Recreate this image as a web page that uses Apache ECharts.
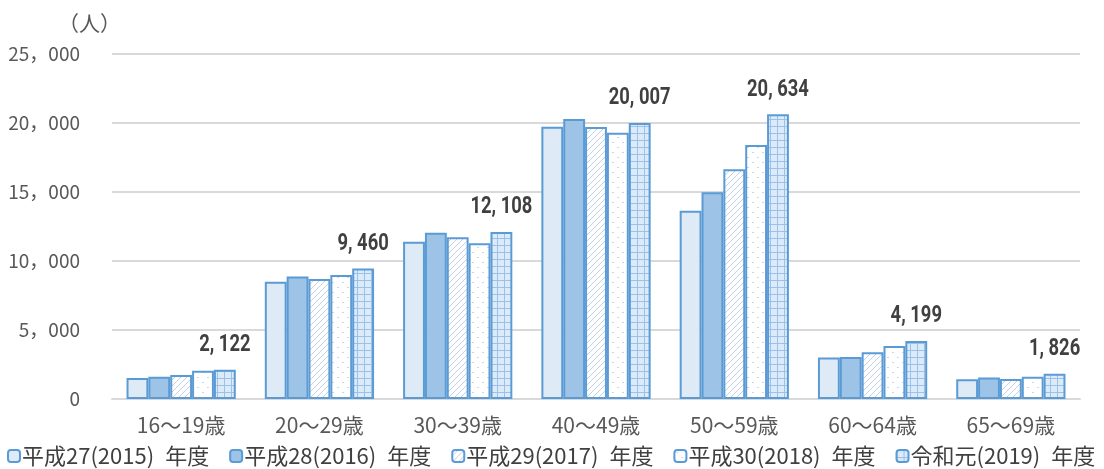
<!DOCTYPE html>
<html><head><meta charset="utf-8">
<script src="https://cdn.jsdelivr.net/npm/echarts@6/dist/echarts.min.js"></script>
<style>html,body{margin:0;padding:0;background:#fff}#c{width:1104px;height:469px}</style>
</head><body><div id="c"></div>
<script>
const categories = ['16～19歳','20～29歳','30～39歳','40～49歳','50～59歳','60～64歳','65～69歳'];
const seriesNames = ['平成27(2015)\u2002年度','平成28(2016)\u2002年度','平成29(2017)\u2002年度','平成30(2018)\u2002年度','令和元(2019)\u2002年度'];
const v2015 = [1520, 8490, 11400, 19730, 13650, 3000, 1430];
const v2016 = [1620, 8880, 12050, 20290, 14980, 3040, 1550];
const v2017 = [1740, 8700, 11720, 19710, 16650, 3380, 1450];
const v2018 = [2050, 8990, 11280, 19300, 18400, 3840, 1620];
const v2019 = [2122, 9460, 12108, 20007, 20634, 4199, 1826];
const yTicks = [0, 5000, 10000, 15000, 20000, 25000];

function fmtAxis(n){ return String(n).replace(/\B(?=(\d{3})+(?!\d))/g, '，'); }
function fmtLabel(n){ return String(n).replace(/\B(?=(\d{3})+(?!\d))/g, ', '); }

function makePattern(draw, w, h){
  const c = document.createElement('canvas'); c.width = w; c.height = h;
  const ctx = c.getContext('2d'); draw(ctx, w, h);
  return {image: c, repeat: 'repeat'};
}
const pDiag = makePattern((ctx,w,h)=>{
  ctx.fillStyle='#ffffff'; ctx.fillRect(0,0,w,h);
  ctx.strokeStyle='#c2d2e4'; ctx.lineWidth=1;
  ctx.beginPath(); ctx.moveTo(-1,h+1); ctx.lineTo(w+1,-1); ctx.stroke();
  ctx.beginPath(); ctx.moveTo(-1,1); ctx.lineTo(1,-1); ctx.stroke();
  ctx.beginPath(); ctx.moveTo(w-1,h+1); ctx.lineTo(w+1,h-1); ctx.stroke();
}, 6, 6);
const pDots = makePattern((ctx,w,h)=>{
  ctx.fillStyle='#ffffff'; ctx.fillRect(0,0,w,h);
  ctx.fillStyle='#c8d6e6';
  ctx.fillRect(2,2,2,1);
  ctx.fillRect(7,7,2,1);
}, 10, 10);
const pGrid = makePattern((ctx,w,h)=>{
  ctx.fillStyle='#dcebfa'; ctx.fillRect(0,0,w,h);
  ctx.fillStyle='#9cc0e6';
  ctx.fillRect(0,0,w,1);
  ctx.fillRect(0,0,1,h);
}, 7, 7);

const fills = ['#deebf7', '#9dc3e6', pDiag, pDots, pGrid];
const values = [v2015, v2016, v2017, v2018, v2019];
const border = '#5b9bd5';
const catGap = 0.21;

const series = values.map((vals, i) => ({
  name: seriesNames[i],
  type: 'bar',
  data: vals,
  barGap: '0%',
  barCategoryGap: (catGap * 100) + '%',
  itemStyle: {color: fills[i], borderColor: border, borderWidth: 2},
  emphasis: {disabled: true}
}));

// value labels for the latest year, drawn as condensed text above the last bar of each group
series.push({
  name: 'labels2019',
  type: 'custom',
  clip: false,
  z: 5,
  silent: true,
  data: v2019.map((v, i) => [i, v]),
  encode: {x: 0, y: 1},
  renderItem: function (params, api) {
    const pt = api.coord([api.value(0), api.value(1)]);
    const band = api.size([1, 0])[0];
    const barW = band * (1 - catGap) / values.length;
    const offset = barW * (values.length - 1) / 2;
    return {
      type: 'text',
      x: pt[0] + offset,
      y: pt[1] - 13,
      scaleX: 0.8,
      style: {
        text: fmtLabel(api.value(1)),
        font: 'bold 23px Roboto, sans-serif',
        fill: '#404040',
        align: 'center',
        verticalAlign: 'bottom'
      }
    };
  }
});

const chart = echarts.init(document.getElementById('c'), null, {renderer: 'canvas'});
chart.setOption({
  animation: false,
  backgroundColor: '#ffffff',
  textStyle: {fontFamily: '"Noto Sans CJK JP", sans-serif'},
  grid: {left: 112, right: 24, top: 54, bottom: 70, containLabel: false},
  legend: {
    bottom: -3, left: 2, itemGap: 20, itemWidth: 12, itemHeight: 12,
    textStyle: {fontSize: 22, color: '#404040', fontFamily: '"Noto Sans CJK JP", sans-serif', padding: [0,0,0,-3]},
    data: seriesNames
  },
  xAxis: {
    type: 'category', data: categories,
    axisTick: {show: false},
    axisLine: {lineStyle: {color: '#d9d9d9', width: 2}},
    axisLabel: {fontSize: 21, color: '#595959', margin: 16, fontFamily: '"Noto Sans CJK JP", sans-serif'}
  },
  yAxis: {
    type: 'value', min: yTicks[0], max: yTicks[yTicks.length-1], interval: yTicks[1]-yTicks[0],
    axisLine: {show: false}, axisTick: {show: false},
    splitLine: {lineStyle: {color: '#d9d9d9', width: 2}},
    axisLabel: {fontSize: 19, color: '#595959', margin: 32, formatter: v => fmtAxis(v), fontFamily: '"Noto Sans CJK JP", sans-serif'}
  },
  graphic: [{
    type: 'text', left: 58, top: 13,
    style: {text: '（人）', font: '21px "Noto Sans CJK JP", sans-serif', fill: '#595959'}
  }],
  series: series
});
</script></body></html>
